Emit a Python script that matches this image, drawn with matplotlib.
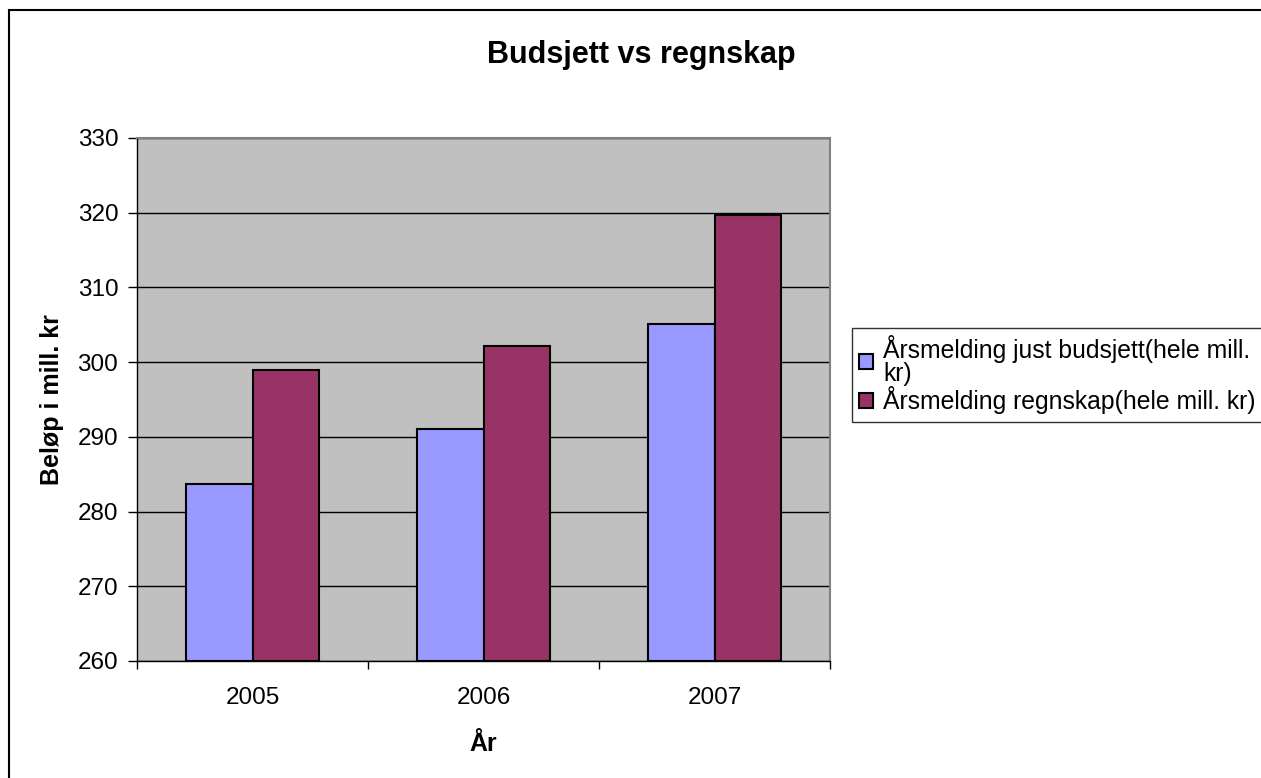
import matplotlib
matplotlib.use("Agg")
import matplotlib.pyplot as plt
from matplotlib.patches import Rectangle

years = ["2005", "2006", "2007"]
budsjett = [283.7, 291.1, 305.1]
regnskap = [298.9, 302.2, 319.7]
series_labels = ["Årsmelding just budsjett(hele mill.\nkr)", "Årsmelding regnskap(hele mill. kr)"]
y_ticks = [260, 270, 280, 290, 300, 310, 320, 330]

plt.rcParams['font.family'] = ['Liberation Sans', 'DejaVu Sans']

W, H = 1261, 778
fig = plt.figure(figsize=(W / 100, H / 100), dpi=100)
fig.patch.set_facecolor("white")

# chart border
fig.patches.append(Rectangle((9 / W, -0.1), 2, 1.1 - 10 / H, transform=fig.transFigure,
                             fill=False, edgecolor="black", linewidth=1.5, clip_on=False))

ax = fig.add_axes([137 / W, 1 - 661 / H, (830 - 137) / W, (661 - 138) / H])
ax.set_facecolor("#C0C0C0")

x = list(range(len(years)))
bw = 0.286
ax.bar([i - bw / 2 for i in x], [v - 260 for v in budsjett], bw, bottom=260,
       color="#9999FF", edgecolor="black", linewidth=1.5, zorder=3, label=series_labels[0])
ax.bar([i + bw / 2 for i in x], [v - 260 for v in regnskap], bw, bottom=260,
       color="#993366", edgecolor="black", linewidth=1.5, zorder=3, label=series_labels[1])

ax.set_xlim(-0.5, 2.5)
ax.set_ylim(260, 330)
ax.set_yticks(y_ticks)
ax.set_yticklabels([str(t) for t in y_ticks], fontsize=17.5)
ax.yaxis.grid(True, color="black", linewidth=1.0, zorder=1)
ax.set_axisbelow(True)

ax.set_xticks([-0.5, 0.5, 1.5, 2.5])
ax.set_xticklabels([])
ax.set_xticks(x, minor=True)
ax.set_xticklabels(years, minor=True, fontsize=17.5)
ax.tick_params(axis="x", which="minor", length=0, pad=19)
ax.tick_params(axis="x", which="major", length=6, width=1, direction="out")
ax.tick_params(axis="y", length=6.5, width=1, direction="out", pad=7)

for s in ["top", "right"]:
    ax.spines[s].set_color("#808080")
    ax.spines[s].set_linewidth(1.5)
for s in ["left", "bottom"]:
    ax.spines[s].set_color("black")
    ax.spines[s].set_linewidth(1.0)

ax.set_xlabel("År", fontsize=18, fontweight="bold", labelpad=16)
ax.set_ylabel("Beløp i mill. kr", fontsize=18, fontweight="bold", labelpad=10)

fig.text(641 / W, 1 - 55 / H, "Budsjett vs regnskap",
         ha="center", va="center", fontsize=22, fontweight="bold")

leg = fig.legend(loc="upper left", bbox_to_anchor=(852 / W, 1 - 328 / H),
                 fontsize=17.8, frameon=True, fancybox=False, edgecolor="black",
                 handlelength=0.55, handleheight=0.55, handletextpad=0.4,
                 borderpad=0.3, labelspacing=0.0, borderaxespad=0)
leg.get_frame().set_linewidth(1.0)
for t in leg.get_texts():
    t.set_linespacing(0.95)

fig.savefig("out.png", dpi=100)
